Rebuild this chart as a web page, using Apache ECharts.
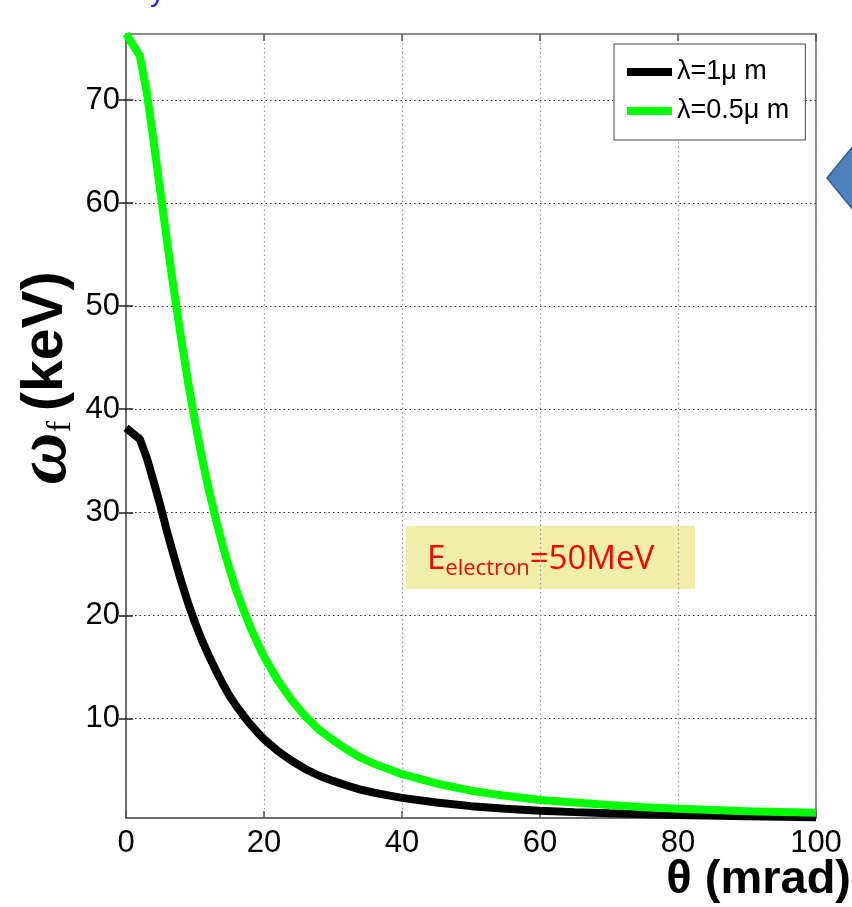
<!DOCTYPE html>
<html>
<head>
<meta charset="utf-8">
<script src="https://cdn.jsdelivr.net/npm/echarts@6/dist/echarts.min.js"></script>
<style>
    html, body { margin: 0; padding: 0; background: #ffffff; }
    #chart { width: 852px; height: 907px; }
</style>
</head>
<body>
<div id="chart"></div>
<script>
// 角度 theta (mrad)
const theta = [0, 2, 3, 4, 5, 6, 7, 8, 9, 10, 11, 12, 13, 14, 15, 16, 17, 18, 19, 20,
    22, 24, 26, 28, 30, 32, 34, 36, 38, 40, 45, 50, 55, 60, 65, 70, 75, 80, 90, 100];
// lambda = 1 um
const energy1um = [38.2, 37.1, 35.3, 33, 30.6, 28, 25.6, 23.3, 21.2, 19.3, 17.6, 16.1, 14.7, 13.4, 12.2, 11.2, 10.3, 9.45, 8.7, 8.0,
    6.85, 5.9, 5.1, 4.45, 3.95, 3.5, 3.1, 2.8, 2.55, 2.3, 1.85, 1.5, 1.25, 1.05, 0.92, 0.8, 0.72, 0.65, 0.52, 0.42];
// lambda = 0.5 um
const energy05um = [76.4, 74.3, 70.8, 66, 61, 56, 51.3, 46.8, 42.6, 38.8, 35.3, 32.2, 29.4, 26.8, 24.5, 22.4, 20.6, 18.9, 17.4, 16.0,
    13.7, 11.8, 10.2, 8.9, 7.9, 7.0, 6.2, 5.6, 5.1, 4.6, 3.7, 3.0, 2.5, 2.1, 1.85, 1.6, 1.4, 1.25, 1.0, 0.85];
const seriesNames = ['λ=1μ m', 'λ=0.5μ m'];
const xTicks = [0, 20, 40, 60, 80, 100];
const yTicks = [10, 20, 30, 40, 50, 60, 70];

const pairs = (ys) => theta.map((t, i) => [t, ys[i]]);

const labelFont = '"Liberation Sans Narrow", "Liberation Sans", Arial, sans-serif';
const yMin = 0.35;
const yMax = 76.4;

const chart = echarts.init(document.getElementById('chart'));

const option = {
    backgroundColor: '#ffffff',
    animation: false,
    grid: {
        left: 126,
        right: 36,
        top: 34,
        bottom: 89,
        show: true,
        borderColor: '#666666',
        borderWidth: 1.5,
        backgroundColor: '#ffffff'
    },
    legend: {
        left: 614,
        top: 44,
        orient: 'vertical',
        data: seriesNames,
        icon: 'rect',
        itemWidth: 45,
        itemHeight: 8,
        itemGap: 9,
        padding: [13, 16, 14, 13],
        backgroundColor: '#ffffff',
        borderColor: '#444444',
        borderWidth: 1,
        borderRadius: 0,
        textStyle: {
            fontFamily: labelFont,
            fontSize: 27,
            lineHeight: 30,
            color: '#000000'
        }
    },
    xAxis: [
        {
            type: 'value',
            min: 0,
            max: 100,
            interval: 20,
            axisLine: { show: true, lineStyle: { color: '#666666', width: 1.5 } },
            axisTick: { show: true, inside: true, length: 7, lineStyle: { color: '#555555', width: 1.5 } },
            axisLabel: {
                showMinLabel: true,
                showMaxLabel: true,
                margin: 10,
                color: '#000000',
                fontFamily: labelFont,
                fontSize: 31,
                customValues: xTicks
            },
            splitLine: { show: true, lineStyle: { color: '#999999', width: 1.2, type: [1.5, 3] } }
        },
        {
            type: 'value',
            position: 'top',
            min: 0,
            max: 100,
            interval: 20,
            axisLine: { show: false },
            axisTick: { show: true, inside: true, length: 7, lineStyle: { color: '#555555', width: 1.5 } },
            axisLabel: { show: false },
            splitLine: { show: false }
        }
    ],
    yAxis: [
        {
            type: 'value',
            min: yMin,
            max: yMax,
            splitNumber: 8,
            axisLine: { show: true, lineStyle: { color: '#666666', width: 1.5 } },
            axisTick: { show: true, inside: true, length: 7, customValues: yTicks, lineStyle: { color: '#222222', width: 1.5 } },
            axisLabel: {
                margin: 6,
                color: '#000000',
                fontFamily: labelFont,
                fontSize: 31,
                customValues: yTicks
            },
            splitLine: { show: true, customValues: yTicks, lineStyle: { color: '#333333', width: 1.2, type: [1.5, 3] } }
        },
        {
            type: 'value',
            position: 'right',
            min: yMin,
            max: yMax,
            splitNumber: 8,
            axisLine: { show: false },
            axisTick: { show: true, inside: true, length: 7, customValues: yTicks, lineStyle: { color: '#222222', width: 1.5 } },
            axisLabel: { show: false },
            splitLine: { show: false }
        }
    ],
    series: [
        {
            name: seriesNames[0],
            type: 'line',
            data: pairs(energy1um),
            showSymbol: false,
            smooth: false,
            lineStyle: { color: '#000000', width: 8 },
            itemStyle: { color: '#000000' }
        },
        {
            name: seriesNames[1],
            type: 'line',
            data: pairs(energy05um),
            showSymbol: false,
            smooth: false,
            lineStyle: { color: '#00ff00', width: 8 },
            itemStyle: { color: '#00ff00' }
        }
    ],
    graphic: [
        // y 轴标题
        {
            type: 'text',
            x: 46,
            y: 378,
            rotation: Math.PI / 2,
            style: {
                text: '{w|ω}{s|f}{g| }{t|(keV)}',
                align: 'center',
                verticalAlign: 'middle',
                fill: '#000000',
                rich: {
                    w: { fontFamily: '"Liberation Serif", serif', fontStyle: 'italic', fontWeight: 'bold', fontSize: 72, fill: '#000000' },
                    s: { fontFamily: '"Liberation Serif", serif', fontSize: 34, fill: '#000000', padding: [30, 0, 0, 0] },
                    g: { fontSize: 20, width: 10 },
                    t: { fontFamily: '"Liberation Sans", Arial, sans-serif', fontWeight: 'bold', fontSize: 57, fill: '#000000' }
                }
            }
        },
        // x 轴标题
        {
            type: 'text',
            x: 851,
            y: 880,
            style: {
                text: 'θ (mrad)',
                align: 'right',
                verticalAlign: 'middle',
                fontFamily: '"Liberation Sans", Arial, sans-serif',
                fontWeight: 'bold',
                fontSize: 47,
                fill: '#000000'
            }
        },
        // 注释框
        {
            type: 'rect',
            shape: { x: 406, y: 526, width: 289, height: 63 },
            style: { fill: '#efefa9' }
        },
        {
            type: 'text',
            x: 427,
            y: 560,
            style: {
                text: '{a|E}{b|electron}{a|=50MeV}',
                verticalAlign: 'middle',
                rich: {
                    a: { fontFamily: '"Open Sans", "Liberation Sans", sans-serif', fontSize: 33, fill: '#ff0000' },
                    b: { fontFamily: '"Open Sans", "Liberation Sans", sans-serif', fontSize: 22, fill: '#ff0000', padding: [17, 0, 0, 0] }
                }
            }
        },
        // 右侧蓝色箭头
        {
            type: 'polygon',
            shape: { points: [[827, 178], [858, 140], [858, 216]] },
            style: { fill: '#4f81bd', stroke: '#385d8a', lineWidth: 1.5 }
        },
        // 顶部残留的蓝色文字
        {
            type: 'text',
            x: 150,
            y: -22,
            style: { text: 'y', fontFamily: '"Liberation Sans", sans-serif', fontSize: 30, fill: '#1a1aff' }
        }
    ]
};

chart.setOption(option);
</script>
</body>
</html>
